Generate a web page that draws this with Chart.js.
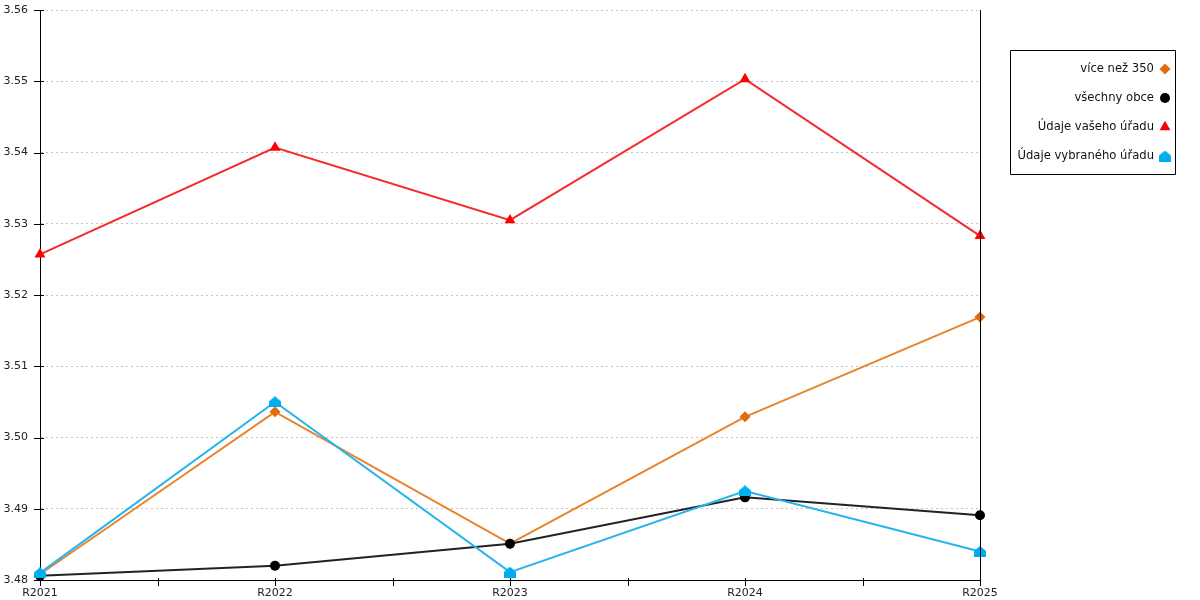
<!DOCTYPE html>
<html>
<head>
<meta charset="utf-8">
<script src="https://cdn.jsdelivr.net/npm/chart.js@4.4.1/dist/chart.umd.min.js"></script>
<style>
html,body{margin:0;padding:0;background:#fff;}
#wrap{width:1200px;height:600px;position:relative;}
</style>
</head>
<body>
<div id="wrap"><canvas id="c" width="1200" height="600"></canvas></div>
<script>
const categories = ['R2021', 'R2022', 'R2023', 'R2024', 'R2025'];
const seriesNames = ['více než 350', 'všechny obce', 'Údaje vašeho úřadu', 'Údaje vybraného úřadu'];
const viceNez350 = [3.4808, 3.5036, 3.4851, 3.5029, 3.5169];
const vsechnyObce = [3.4806, 3.4820, 3.4851, 3.4916, 3.4891];
const vasUrad = [3.5257, 3.5407, 3.5305, 3.5503, 3.5283];
const vybranyUrad = [3.4810, 3.5050, 3.4811, 3.4925, 3.4840];
const yMin = 3.48, yMax = 3.56, yStep = 0.01;

// house-shaped marker
const house = document.createElement('canvas');
house.width = 12; house.height = 11;
(function(){
  const g = house.getContext('2d');
  g.fillStyle = '#00adef';
  g.beginPath();
  g.moveTo(6, 0); g.lineTo(12, 5); g.lineTo(12, 11); g.lineTo(0, 11); g.lineTo(0, 5);
  g.closePath(); g.fill();
})();

Chart.defaults.font.family = 'DejaVu Sans';
Chart.defaults.font.size = 11;
Chart.defaults.color = '#222';

function ds(label, data, line, mark, style, radius, order) {
  return {
    label, data,
    borderColor: line, backgroundColor: mark,
    pointBackgroundColor: mark, pointBorderColor: mark,
    pointBorderWidth: 0,
    borderWidth: 2, pointStyle: style, pointRadius: radius, pointHoverRadius: radius,
    tension: 0, fill: false, clip: false, order
  };
}

const datasets = [
  ds(seriesNames[0], viceNez350, '#e8842c', '#e06c0c', 'rectRot', 5.5, 4),
  ds(seriesNames[1], vsechnyObce, '#222222', '#000000', 'circle', 5, 3),
  ds(seriesNames[2], vasUrad, '#f52a2a', '#ff0000', 'triangle', 6.3, 2),
  ds(seriesNames[3], vybranyUrad, '#25b5ec', '#00adef', house, 6, 1)
];

const decor = {
  id: 'decor',
  afterDraw(chart) {
    const ctx = chart.ctx, a = chart.chartArea;
    const ys = chart.scales.y, xs = chart.scales.x;
    ctx.save();
    ctx.strokeStyle = '#000'; ctx.lineWidth = 1;
    // right vertical line
    ctx.beginPath();
    ctx.moveTo(Math.round(a.right) + 0.5, a.top);
    ctx.lineTo(Math.round(a.right) + 0.5, a.bottom);
    ctx.stroke();
    // y ticks crossing axis
    ys.ticks.forEach((t, i) => {
      const y = Math.round(ys.getPixelForTick(i)) + 0.5;
      ctx.beginPath(); ctx.moveTo(a.left - 6, y); ctx.lineTo(a.left + 4, y); ctx.stroke();
    });
    // x ticks at categories and midpoints
    for (let i = 0; i < categories.length; i++) {
      const px = [xs.getPixelForValue(i)];
      if (i < categories.length - 1) px.push((xs.getPixelForValue(i) + xs.getPixelForValue(i + 1)) / 2);
      px.forEach(p => {
        const x = Math.round(p) + 0.5;
        ctx.beginPath(); ctx.moveTo(x, a.bottom - 2); ctx.lineTo(x, a.bottom + 6); ctx.stroke();
      });
    }
    // legend
    const lx = 1010, ly = 50, lw = 165, lh = 124;
    ctx.beginPath(); ctx.rect(lx + 0.5, ly + 0.5, lw, lh); ctx.stroke();
    ctx.font = '11.6px "DejaVu Sans"';
    ctx.textAlign = 'right'; ctx.textBaseline = 'middle';
    chart.data.datasets.forEach((d, i) => {
      const y = ly + 19 + i * 29;
      ctx.fillStyle = '#111';
      ctx.fillText(d.label, lx + 144, y);
      ctx.fillStyle = d.pointBackgroundColor;
      ctx.strokeStyle = d.pointBackgroundColor;
      ctx.beginPath();
      Chart.helpers.drawPoint(ctx, {
        pointStyle: d.pointStyle, radius: d.pointRadius, rotation: 0, borderWidth: 0
      }, lx + 155, y);
    });
    ctx.restore();
  }
};

new Chart(document.getElementById('c'), {
  type: 'line',
  data: { labels: categories, datasets },
  options: {
    responsive: false,
    animation: false,
    devicePixelRatio: 1,
    layout: { padding: { top: 10, right: 220, left: 0, bottom: 0 } },
    plugins: { legend: { display: false }, tooltip: { enabled: false } },
    events: [],
    scales: {
      x: {
        type: 'category',
        offset: false,
        grid: { display: false, drawTicks: false },
        border: { display: true, color: '#000', width: 1 },
        ticks: { padding: 7, color: '#222', maxRotation: 0, autoSkip: false },
        afterFit(s) { s.height = 20; s.paddingLeft = 0; s.paddingRight = 0; }
      },
      y: {
        min: yMin, max: yMax,
        grid: { color: '#c4c4c4', drawTicks: false, tickLength: 0 },
        border: { display: true, color: '#000', width: 1, dash: [2, 3] },
        ticks: { stepSize: yStep, padding: 12, color: '#222', callback: v => v.toFixed(2) },
        afterFit(s) { s.width = 40; s.paddingTop = 0; s.paddingBottom = 0; }
      }
    }
  },
  plugins: [decor]
});
</script>
</body>
</html>
